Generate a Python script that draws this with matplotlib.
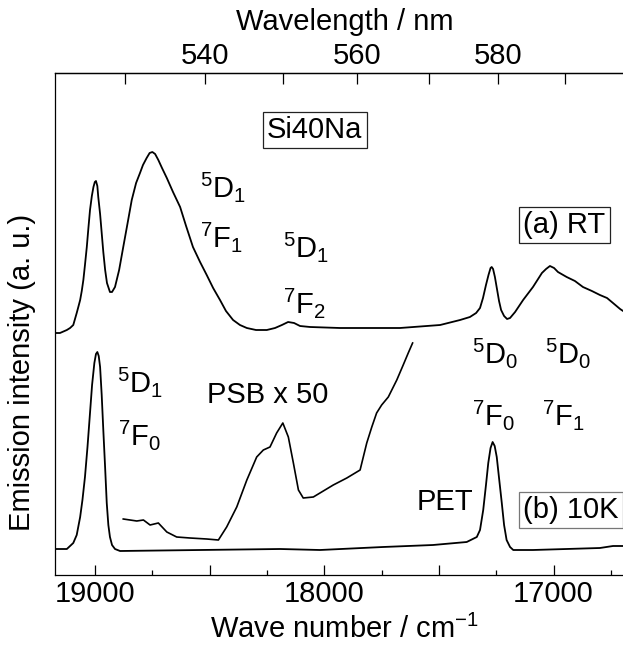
import matplotlib
matplotlib.use("Agg")
import matplotlib.pyplot as plt
from matplotlib.ticker import FixedLocator, MultipleLocator, FuncFormatter

plt.rcParams['font.family'] = ['Liberation Sans', 'DejaVu Sans']
plt.rcParams['mathtext.fontset'] = 'custom'
plt.rcParams['mathtext.rm'] = 'Liberation Sans'
plt.rcParams['mathtext.it'] = 'Liberation Sans:italic'
plt.rcParams['mathtext.bf'] = 'Liberation Sans:bold'

# (a) RT spectrum, wave number (cm-1) and intensity (arb.)
wn_rt = [19174, 19153, 19123, 19109, 19095, 19080, 19073, 19065, 19058, 19051,
         19044, 19036, 19029, 19022, 19014, 19007, 19001, 18996, 18990, 18986,
         18978, 18971, 18964, 18956, 18948, 18935, 18926, 18913, 18895, 18877,
         18858, 18840, 18821, 18804, 18791, 18775, 18762, 18750, 18738, 18724,
         18708, 18687, 18660, 18629, 18603, 18573, 18542, 18513, 18485, 18455,
         18429, 18398, 18368, 18338, 18298, 18251, 18215, 18185, 18158, 18132,
         18106, 18062, 17932, 17670, 17495, 17408, 17365, 17338, 17321, 17308,
         17295, 17284, 17275, 17270, 17264, 17256, 17247, 17238, 17229, 17216,
         17203, 17190, 17168, 17133, 17090, 17051, 17033, 17016, 16998, 16981,
         16943, 16907, 16872, 16833, 16798, 16767, 16741, 16710, 16697, 16645]
int_rt = [242, 242, 245, 247, 250, 262, 268, 275, 284, 295,
          310, 328, 347, 365, 379, 388, 393, 394, 389, 378,
          361, 342, 323, 305, 292, 283, 283, 288, 305, 328,
          352, 375, 392, 402, 410, 417, 422, 423, 421, 415,
          407, 397, 383, 368, 349, 328, 313, 300, 287, 275,
          264, 255, 250, 247, 245, 245, 247, 250, 253, 252,
          249, 248, 247, 247, 250, 255, 258, 262, 267, 277,
          290, 300, 307, 308, 306, 298, 286, 274, 265, 259,
          256, 257, 263, 275, 288, 302, 306, 309, 307, 303,
          298, 294, 288, 284, 280, 277, 272, 266, 264, 258]

# (b) 10K spectrum
wn_10k = [19174, 19123, 19095, 19080, 19065, 19055, 19044, 19033, 19022, 19013,
          19003, 18996, 18990, 18984, 18978, 18971, 18964, 18956, 18949, 18942,
          18935, 18926, 18913, 18891, 18542, 18193, 18019, 17744, 17526, 17379,
          17335, 17321, 17307, 17295, 17285, 17275, 17266, 17257, 17248, 17238,
          17226, 17216, 17205, 17190, 17176, 17090, 16798, 16741, 16697, 16645]
int_10k = [26, 26, 32, 40, 58, 75, 98, 128, 162, 190,
           212, 221, 223, 219, 208, 180, 145, 107, 72, 50,
           38, 30, 26, 24, 25, 26, 25, 28, 30, 33,
           38, 45, 65, 90, 112, 127, 133, 129, 118, 97,
           72, 50, 35, 28, 25, 25, 27, 29, 29, 29]

# phonon sideband, x 50
wn_psb = [18877, 18818, 18789, 18760, 18724, 18687, 18644, 18586, 18513, 18462,
          18426, 18382, 18338, 18295, 18266, 18237, 18208, 18181, 18157, 18135,
          18113, 18092, 18048, 18019, 17961, 17902, 17844, 17815, 17793, 17772,
          17750, 17721, 17684, 17656, 17634, 17615]
int_psb = [56, 54, 55, 50, 52, 43, 38, 37, 36, 35,
           48, 68, 95, 118, 125, 128, 142, 152, 138, 112,
           85, 77, 78, 82, 90, 97, 105, 132, 148, 162,
           170, 178, 195, 210, 222, 232]

top_ticks = [540, 560, 580]
top_minor = [530, 550, 570, 590]

W, H = 623, 645
fig = plt.figure(figsize=(W / 100, H / 100), dpi=100)
ax = fig.add_axes([54.7 / W, 70 / H, (635 - 54.7) / W, 502 / H])

ax.plot(wn_rt, int_rt, color='black', lw=1.3)
ax.plot(wn_10k, int_10k, color='black', lw=1.3)
ax.plot(wn_psb, int_psb, color='black', lw=1.2)

ax.set_xlim(19176, 16645)
ax.set_ylim(0, 502)
ax.set_yticks([])
ax.spines['right'].set_visible(False)
for s in ax.spines.values():
    s.set_linewidth(0.9)

ax.xaxis.set_major_locator(MultipleLocator(500))
ax.xaxis.set_minor_locator(MultipleLocator(250))
ax.xaxis.set_major_formatter(FuncFormatter(lambda v, p: '%d' % v if v % 1000 == 0 else ''))
ax.tick_params(axis='x', which='major', direction='in', length=7.2, width=0.9,
               labelsize=21, pad=3.5)
ax.tick_params(axis='x', which='minor', direction='in', length=3.6, width=0.9)
ax.set_xlabel('Wave number / cm$^{-1}$', fontsize=21, labelpad=5)

sec = ax.secondary_xaxis('top', functions=(lambda x: 1e7 / x, lambda x: 1e7 / x))
sec.xaxis.set_major_locator(FixedLocator(top_ticks))
sec.xaxis.set_minor_locator(FixedLocator(top_minor))
sec.tick_params(which='both', direction='in', length=7.6, width=0.9, labelsize=21, pad=2)
sec.spines['top'].set_linewidth(0.9)
sec.set_xlabel('Wavelength / nm', fontsize=21, labelpad=9)

fig.text(22 / W, 1 - 372 / H, 'Emission intensity (a. u.)', rotation=90,
         fontsize=21, ha='center', va='center')


def lab(px, py, s, **kw):
    fig.text(px / W, 1 - py / H, s, fontsize=21, ha='left', va='baseline', **kw)


lab(200, 197, r'$^{5}$D$_{1}$')
lab(200, 247, r'$^{7}$F$_{1}$')
lab(283, 257, r'$^{5}$D$_{1}$')
lab(283, 313, r'$^{7}$F$_{2}$')
lab(472, 363, r'$^{5}$D$_{0}$')
lab(545, 363, r'$^{5}$D$_{0}$')
lab(472, 425, r'$^{7}$F$_{0}$')
lab(542, 425, r'$^{7}$F$_{1}$')
lab(117, 392, r'$^{5}$D$_{1}$')
lab(118, 445, r'$^{7}$F$_{0}$')
lab(207, 403, 'PSB x 50')
lab(417, 510, 'PET')

box = dict(boxstyle='square,pad=0.15', facecolor='white', edgecolor='#222222', lw=0.9)
lab(267, 138, 'Si40Na', bbox=box)
lab(523, 233, '(a) RT', bbox=box)
lab(523, 518, '(b) 10K', bbox=dict(boxstyle='square,pad=0.15', facecolor='white',
                                    edgecolor='#777777', lw=0.9))

fig.savefig('out.png', dpi=100)
